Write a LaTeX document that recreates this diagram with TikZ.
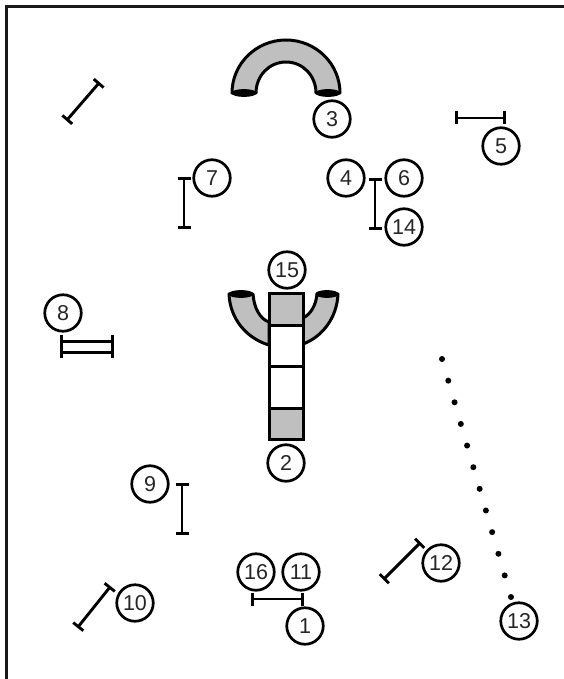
\documentclass[tikz,border=0pt]{standalone}
\usepackage{fontspec}
\setmainfont{Liberation Sans}
\usetikzlibrary{arrows.meta}
\tikzset{
  x=1pt,y=-1pt,
  num/.style={circle,draw=black,line width=2.7pt,fill=white,minimum size=36.5pt,inner sep=0pt,font=\fontsize{21.5}{21.5}\selectfont,text=black!85},
  barline/.style={line width=2.9pt,draw=black,{Bar[width=13pt,line width=2.9pt]}-{Bar[width=13pt,line width=2.9pt]},shorten >=-1pt,shorten <=-1pt},
  tube/.style={fill=black!25,draw=black,line width=3pt,line join=round},
  tubeend/.style={fill=black,draw=black,line width=1pt},
  frameline/.style={line width=3pt,draw=black!90},
  tunnel/.style={draw=black,line width=3pt},
  polepoint/.style={circle,fill=black,minimum size=6pt,inner sep=0pt}
}
\begin{document}
\begin{tikzpicture}
\useasboundingbox (0,0) rectangle (564,679);
% frame
\draw[frameline] (6.5,679) -- (6.5,6.5) -- (564,6.5);
% top tube
\draw[tube] (232,93) .. controls (232,64) and (256,40) .. (286,40) .. controls (316,40) and (340,64) .. (340,93)
  -- (316,93) .. controls (316,76) and (303,62) .. (286,62) .. controls (269,62) and (256,76) .. (256,93) -- cycle;
\draw[tubeend] (244,93) ellipse [x radius=12, y radius=3.4];
\draw[tubeend] (328,93) ellipse [x radius=12, y radius=3.4];
% side tubes
\draw[tube] (229,294) .. controls (230,320) and (248,339) .. (269,345) -- (269,322) .. controls (260,319) and (254,308) .. (253,294) -- cycle;
\draw[tube] (338,294) .. controls (337,318) and (322,337) .. (303,344) -- (303,318) .. controls (311,314) and (316,305) .. (317,294) -- cycle;
\draw[tubeend] (241,294) ellipse [x radius=12, y radius=3.4];
\draw[tubeend] (327,294) ellipse [x radius=11, y radius=3.4];
% tunnel
\draw[tunnel,fill=white] (269,293) rectangle (303,439);
\draw[tunnel,fill=black!25] (269,293) rectangle (303,325);
\draw[tunnel,fill=black!25] (269,408) rectangle (303,439);
\draw[tunnel] (269,366) -- (303,366);
% bars
\draw[barline] (67,120) -- (99,83);
\draw[barline] (456,118) -- (505,118);
\draw[barline] (184,178) -- (184,228);
\draw[barline] (375,179) -- (375,229);
\draw[barline] (182,484) -- (182,534);
\draw[barline] (78,627) -- (110,587);
\draw[barline] (384,579) -- (420,543);
\draw[barline] (252,599) -- (303,599);
% double bar
\draw[line width=3pt] (61,335) -- (61,358);
\draw[line width=3pt] (112,335) -- (112,358);
\draw[line width=3pt] (61,341) -- (112,341);
\draw[line width=3pt] (61,352) -- (112,352);
% weave poles
\foreach \i in {0,...,11}
  \node[polepoint] (p\i) at ({442+\i*6.27},{359+\i*21.64}) {};
% numbers
\node[num] (n3) at (332,119) {3};
\node[num] (n5) at (501,146) {5};
\node[num] (n7) at (212,178) {7};
\node[num] (n4) at (346,178) {4};
\node[num] (n6) at (404,178) {6};
\node[num] (n14) at (404,227) {14};
\node[num] (n15) at (287,270) {15};
\node[num] (n8) at (63,313) {8};
\node[num] (n2) at (286,463) {2};
\node[num] (n9) at (150,484) {9};
\node[num] (n12) at (441,563) {12};
\node[num] (n16) at (256,572) {16};
\node[num] (n11) at (301,572) {11};
\node[num] (n10) at (135,603) {10};
\node[num] (n1) at (305,626) {1};
\node[num] (n13) at (519,621) {13};
\end{tikzpicture}
\end{document}
